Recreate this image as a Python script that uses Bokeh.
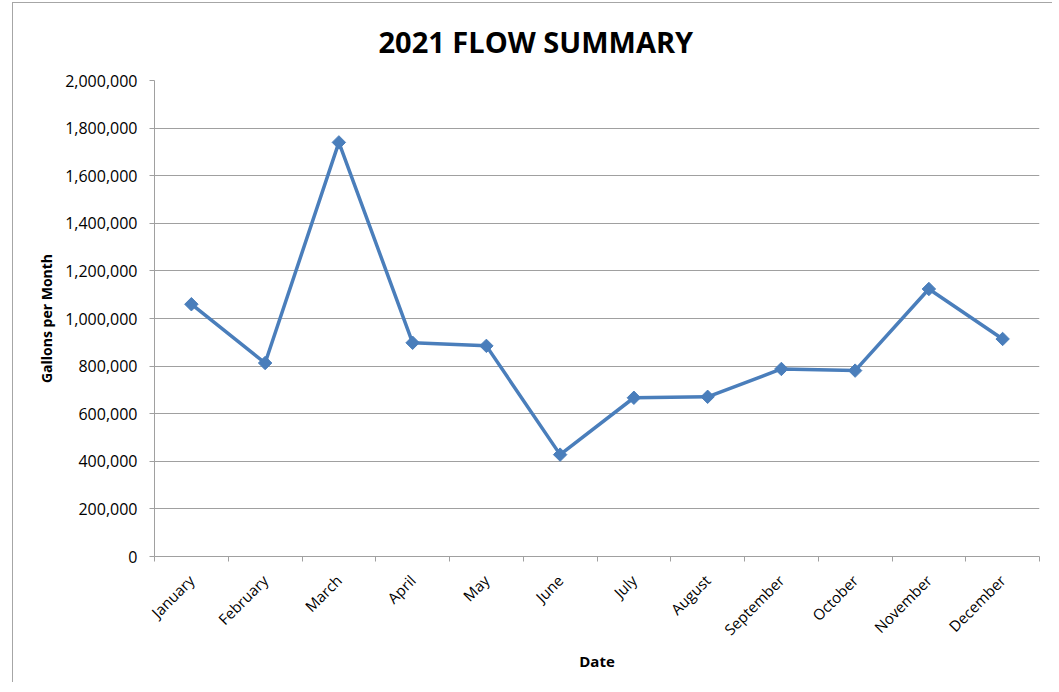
import math
from bokeh.plotting import figure
from bokeh.models import Range1d, FixedTicker, NumeralTickFormatter, Title
from bokeh.embed import file_html
from bokeh.resources import INLINE

months = ["January", "February", "March", "April", "May", "June",
          "July", "August", "September", "October", "November", "December"]
flow = [1060000, 813000, 1740000, 898000, 885000, 428000,
        667000, 671000, 788000, 781000, 1124000, 914000]
y_ticks = [0, 200000, 400000, 600000, 800000, 1000000,
           1200000, 1400000, 1600000, 1800000, 2000000]
title_text = "2021 FLOW SUMMARY"
x_label = "Date"
y_label = "Gallons per Month"

FONT = "Open Sans"
GRAY = "#a0a0a0"
BLUE = "#4a7ebb"

n = len(months)
xs = [i + 0.5 for i in range(n)]

p = figure(width=1040, height=680, output_backend="svg", toolbar_location=None,
           x_range=Range1d(0, n), y_range=Range1d(y_ticks[0], y_ticks[-1]),
           min_border_left=141, min_border_right=14, min_border_top=76,
           min_border_bottom=127, outline_line_color=None,
           background_fill_color="white", border_fill_color="white")
p.styles = {"border-left": "1px solid #a6a6a6", "border-top": "1px solid #a6a6a6",
            "margin-left": "12px", "margin-top": "2px"}

t = Title(text=title_text, align="left", offset=224, text_font=FONT,
          text_font_size="29px", text_font_style="bold", text_color="black",
          vertical_align="top", standoff=36)
p.add_layout(t, "above")

p.line(xs, flow, line_color=BLUE, line_width=3.5)
p.scatter(xs, flow, marker="square", angle=math.pi / 4, size=9.5,
          fill_color=BLUE, line_color=BLUE)

# y axis
p.yaxis.ticker = FixedTicker(ticks=y_ticks)
p.yaxis.formatter = NumeralTickFormatter(format="0,0")
p.yaxis.axis_line_color = GRAY
p.yaxis.major_tick_line_color = GRAY
p.yaxis.major_tick_in = 0
p.yaxis.major_tick_out = 5
p.yaxis.minor_tick_line_color = None
p.yaxis.major_label_text_font = FONT
p.yaxis.major_label_text_font_size = "16px"
p.yaxis.major_label_text_color = "black"
p.yaxis.major_label_standoff = 12
p.yaxis.axis_label = y_label
p.yaxis.axis_label_text_font = FONT
p.yaxis.axis_label_text_font_size = "14px"
p.yaxis.axis_label_text_font_style = "bold"
p.yaxis.axis_label_text_color = "black"
p.yaxis.axis_label_standoff = 6

# x axis: labels at category centres, ticks at boundaries
p.xaxis.ticker = FixedTicker(ticks=xs, minor_ticks=list(range(n + 1)))
p.xaxis.major_label_overrides = {x: m for x, m in zip(xs, months)}
p.xaxis.major_label_orientation = math.pi / 4
p.xaxis.axis_line_color = GRAY
p.xaxis.major_tick_line_color = None
p.xaxis.major_tick_in = 0
p.xaxis.major_tick_out = 0
p.xaxis.minor_tick_line_color = GRAY
p.xaxis.minor_tick_in = 0
p.xaxis.minor_tick_out = 5
p.xaxis.major_label_text_font = FONT
p.xaxis.major_label_text_font_size = "15px"
p.xaxis.major_label_text_color = "black"
p.xaxis.major_label_standoff = 16
p.xaxis.axis_label = x_label
p.xaxis.axis_label_text_font = FONT
p.xaxis.axis_label_text_font_size = "15px"
p.xaxis.axis_label_text_font_style = "bold"
p.xaxis.axis_label_text_color = "black"
p.xaxis.axis_label_standoff = 2

p.xgrid.grid_line_color = None
p.ygrid.ticker = FixedTicker(ticks=y_ticks)
p.ygrid.grid_line_color = GRAY
p.ygrid.grid_line_width = 1

open("out.html", "w").write(file_html(p, INLINE))
